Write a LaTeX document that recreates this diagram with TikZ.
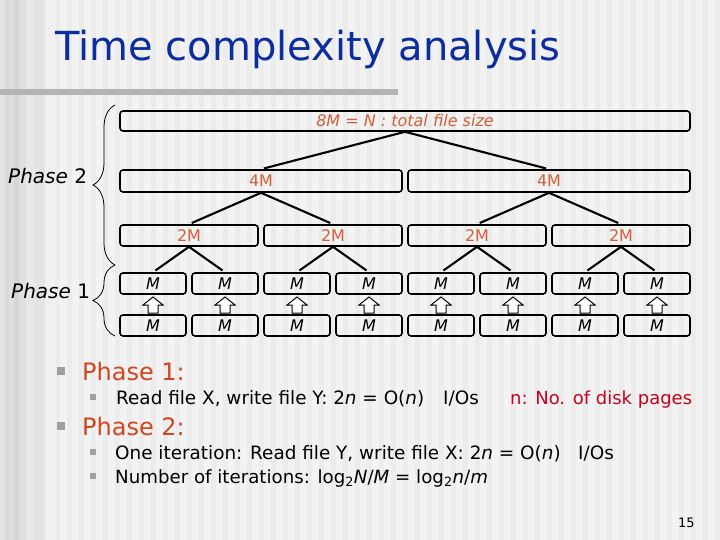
\documentclass[tikz,border=0pt]{standalone}
\usepackage{fontspec}
\setmainfont{DejaVu Sans}
\usetikzlibrary{decorations.pathreplacing,calc}
\definecolor{titleblue}{HTML}{0B2DA0}
\definecolor{phasered}{HTML}{D2451E}
\definecolor{lblorange}{HTML}{D0603A}
\definecolor{notered}{HTML}{C8001E}
\definecolor{bulletgray}{HTML}{A0A0A0}
\definecolor{bgbase}{HTML}{F3F3F3}
\definecolor{bgstripe}{HTML}{ECECEC}
\definecolor{barcolor}{HTML}{B4B4B4}
\begin{document}
\begin{tikzpicture}[x=1pt,y=-1pt,
  box/.style={draw=black, line width=1.6pt, rounded corners=3pt, inner sep=0pt, minimum height=21pt},
  lbl/.style={font=\fontsize{16}{16}\selectfont, text=lblorange},
  mlbl/.style={font=\fontsize{16}{16}\selectfont\itshape, text=black},
  tree/.style={line width=2.1pt, shorten >=3pt},
  barrow/.style={draw=black, line width=1pt, fill=white, line join=miter},
  brace/.style={decorate, decoration={brace, amplitude=22pt}, line width=0.8pt},
  txt/.style={anchor=base west, inner sep=0pt},
  big/.style={font=\fontsize{24}{24}\selectfont, text=phasered},
  small/.style={font=\fontsize{18.4}{18.4}\selectfont}
]
% background
\useasboundingbox (0,0) rectangle (720,540);
\fill[bgbase] (0,0) rectangle (720,540);
\foreach \x in {55,67,...,715} \fill[bgstripe] (\x,0) rectangle (\x+5,540);
\fill[gray!22] (0,0) rectangle (5,540);
\fill[gray!30] (5,0) rectangle (9,540);
\fill[gray!25] (9,0) rectangle (14,540);
\fill[gray!32] (14,0) rectangle (19,540);
\fill[gray!24] (19,0) rectangle (26,540);
\fill[gray!18] (26,0) rectangle (35,540);
\fill[gray!22] (35,0) rectangle (45,540);
\fill[gray!12] (45,0) rectangle (53,540);
% title and bar
\node[txt, font=\fontsize{40}{40}\selectfont, text=titleblue] (title) at (55,61) {Time complexity analysis};
\fill[barcolor] (0,89) rectangle (398,95);
% tree boxes
\node[box, minimum width=570pt, minimum height=20pt, lbl, font=\fontsize{16}{16}\selectfont\itshape] (top) at (405,121) {8M = N : total file size};
\node[box, minimum width=282pt, minimum height=22pt, lbl] (fa) at (261,181) {4M};
\node[box, minimum width=282pt, minimum height=22pt, lbl] (fb) at (549,181) {4M};
\foreach \i/\c in {1/189,2/333,3/477,4/621}
  \node[box, minimum width=138pt, lbl] (t\i) at (\c,235.5) {2M};
\foreach \i in {1,...,8} {
  \pgfmathsetmacro\c{153+72*(\i-1)}
  \node[box, minimum width=66pt, mlbl] (m\i) at (\c,283.5) {M};
  \node[box, minimum width=66pt, mlbl] (r\i) at (\c,325.5) {M};
  \draw[barrow] (\c,297) -- (\c+10,305) -- (\c+5,305) -- (\c+5,313) -- (\c-5,313) -- (\c-5,305) -- (\c-10,305) -- cycle;
}
\draw[tree] (top.south) -- (fa.north);
\draw[tree] (top.south) -- (fb.north);
\draw[tree] (fa.south) -- (t1.north);
\draw[tree] (fa.south) -- (t2.north);
\draw[tree] (fb.south) -- (t3.north);
\draw[tree] (fb.south) -- (t4.north);
\foreach \p/\a/\b in {1/1/2,2/3/4,3/5/6,4/7/8} {
  \draw[tree] (t\p.south) -- (m\a.north);
  \draw[tree] (t\p.south) -- (m\b.north);
}
% braces
\coordinate (b2s) at (115,265);
\coordinate (b2e) at (115,105);
\coordinate (b1s) at (115,336);
\coordinate (b1e) at (115,265);
\draw[brace] (b2s) -- (b2e);
\draw[brace] (b1s) -- (b1e);
\node[txt, font=\fontsize{20}{20}\selectfont] (p2) at (8,184) {\textit{Phase} 2};
\node[txt, font=\fontsize{20}{20}\selectfont] (p1) at (11,298) {\textit{Phase} 1};
% bullets
\fill[bulletgray] (57,367) rectangle (65,375);
\fill[bulletgray] (57,422) rectangle (65,430);
\fill[bulletgray] (90,394) rectangle (96,400);
\fill[bulletgray] (90,449) rectangle (96,455);
\fill[bulletgray] (90,473) rectangle (96,479);
\node[txt, big] (h1) at (82,380) {Phase 1:};
\node[txt, small] (l1) at (116,404) {Read file X, write file Y: 2\textit{n} = O(\textit{n})};
\node[txt, small] (l1b) at (443,404) {I/Os};
\node[txt, small, font=\fontsize{18}{18}\selectfont, text=notered] (l1c) at (510,404) {n: No. of disk pages};
\node[txt, big] (h2) at (82,435) {Phase 2:};
\node[txt, small] (l2) at (115,459) {One iteration: Read file Y, write file X: 2\textit{n} = O(\textit{n})};
\node[txt, small] (l2b) at (578,459) {I/Os};
\node[txt, small, font=\fontsize{18.2}{18.2}\selectfont] (l3) at (115,483) {Number of iterations: log\textsubscript{2}\textit{N}/\textit{M} = log\textsubscript{2}\textit{n}/\textit{m}};
\node[txt, font=\fontsize{13}{13}\selectfont] (pg) at (678,527) {15};
\end{tikzpicture}
\end{document}
